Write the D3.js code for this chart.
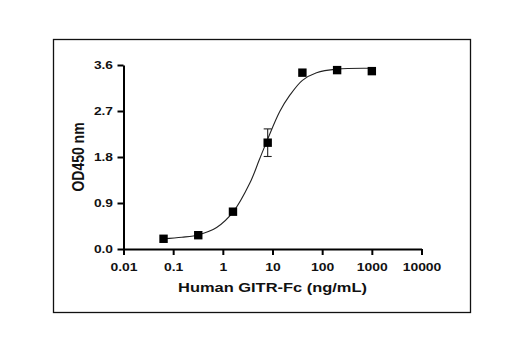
<!DOCTYPE html>
<html>
<head>
<meta charset="utf-8">
<script src="https://cdn.jsdelivr.net/npm/d3@7/dist/d3.min.js"></script>
<style>
  html, body { margin: 0; padding: 0; background: #fff; }
  svg { display: block; }
  text { font-family: "Liberation Sans", Arial, Helvetica, sans-serif; font-weight: bold; fill: #111; }
</style>
</head>
<body>
<svg id="chart" width="517" height="360"></svg>
<script>
// ---- data ----
const concentrations = [0.064, 0.32, 1.6, 8, 40, 200, 1000];      // ng/mL
const odValues       = [0.20, 0.27, 0.73, 2.08, 3.45, 3.50, 3.48];   // OD450
const odErrors       = [0, 0, 0, 0.27, 0, 0, 0];

// fitted curve
const curveConc = [0.064, 0.15, 0.33, 0.75, 1.6, 3.5, 5.4, 8, 14, 22, 40, 77, 200, 1000];
const curveOD   = [0.20, 0.23, 0.28, 0.42, 0.72, 1.29, 1.74, 2.15, 2.69, 3.00, 3.30, 3.45, 3.52, 3.535];

const xTicks = [0.01, 0.1, 1, 10, 100, 1000, 10000];
const xTickLabels = ["0.01", "0.1", "1", "10", "100", "1000", "10000"];
const yTicks = [0, 0.9, 1.8, 2.7, 3.6];
const yTickLabels = ["0.0", "0.9", "1.8", "2.7", "3.6"];

const xTitle = "Human GITR-Fc (ng/mL)";
const yTitle = "OD450 nm";

// ---- drawing ----
const svg = d3.select("#chart");
const stretch = 1.2; // the reference text is widened horizontally

// outer frame
svg.append("rect")
  .attr("x", 53.5).attr("y", 39.5)
  .attr("width", 417).attr("height", 273)
  .attr("fill", "none").attr("stroke", "#111").attr("stroke-width", 1.3);

const x = d3.scaleLog().domain([0.01, 10000]).range([123.5, 421.5]);
const y = d3.scaleLinear().domain([0, 3.6]).range([249, 65]);

// x axis
const xAxis = d3.axisBottom(x)
  .tickValues(xTicks)
  .tickFormat((d, i) => xTickLabels[i])
  .tickSizeInner(6).tickSizeOuter(0).tickPadding(4);
const gx = svg.append("g").attr("transform", `translate(0,${y(0)})`).call(xAxis);
gx.select(".domain").attr("stroke", "#000").attr("stroke-width", 2);
gx.selectAll(".tick line").attr("stroke", "#000").attr("stroke-width", 2);
gx.selectAll(".tick text")
  .attr("font-size", 11.6).attr("font-family", null).attr("fill", "#111")
  .attr("y", 22.3).attr("dy", 0)
  .attr("transform", `scale(${stretch},1)`);

// y axis
const yAxis = d3.axisLeft(y)
  .tickValues(yTicks)
  .tickFormat((d, i) => yTickLabels[i])
  .tickSizeInner(6).tickSizeOuter(0).tickPadding(5);
const gy = svg.append("g").attr("transform", `translate(${x(0.01)},0)`).call(yAxis);
gy.select(".domain").attr("stroke", "#000").attr("stroke-width", 2);
gy.selectAll(".tick line").attr("stroke", "#000").attr("stroke-width", 2);
gy.selectAll(".tick text")
  .attr("font-size", 11).attr("font-family", null).attr("fill", "#111")
  .attr("x", -10.5 / 1.25)
  .attr("transform", "scale(1.25,1)");

// fitted curve
const curveData = curveConc.map((c, i) => [c, curveOD[i]]);
svg.append("path")
  .datum(curveData)
  .attr("fill", "none")
  .attr("stroke", "#222")
  .attr("stroke-width", 1.1)
  .attr("d", d3.line().x(d => x(d[0])).y(d => y(d[1])).curve(d3.curveCatmullRom.alpha(0.5)));

// error bars
const pts = concentrations.map((c, i) => ({c, v: odValues[i], e: odErrors[i]}));
const eb = svg.append("g").attr("stroke", "#222").attr("stroke-width", 1.1);
pts.filter(d => d.e > 0).forEach(d => {
  eb.append("line").attr("x1", x(d.c)).attr("x2", x(d.c)).attr("y1", y(d.v - d.e)).attr("y2", y(d.v + d.e));
  eb.append("line").attr("x1", x(d.c) - 4).attr("x2", x(d.c) + 4).attr("y1", y(d.v + d.e)).attr("y2", y(d.v + d.e));
  eb.append("line").attr("x1", x(d.c) - 4).attr("x2", x(d.c) + 4).attr("y1", y(d.v - d.e)).attr("y2", y(d.v - d.e));
});

// markers
const ms = 8.4;
svg.append("g").selectAll("rect").data(pts).join("rect")
  .attr("x", d => x(d.c) - ms / 2)
  .attr("y", d => y(d.v) - ms / 2)
  .attr("width", ms).attr("height", ms)
  .attr("fill", "#000");

// axis titles
const xMid = (x.range()[0] + x.range()[1]) / 2;
svg.append("text")
  .attr("transform", `translate(${xMid},292) scale(${stretch},1)`)
  .attr("text-anchor", "middle")
  .attr("font-size", 13.7)
  .text(xTitle);

const yMid = (y.range()[0] + y.range()[1]) / 2;
svg.append("text")
  .attr("transform", `translate(83.5,${yMid}) scale(${stretch},1) rotate(-90)`)
  .attr("text-anchor", "middle")
  .attr("font-size", 14)
  .text(yTitle);
</script>
</body>
</html>
